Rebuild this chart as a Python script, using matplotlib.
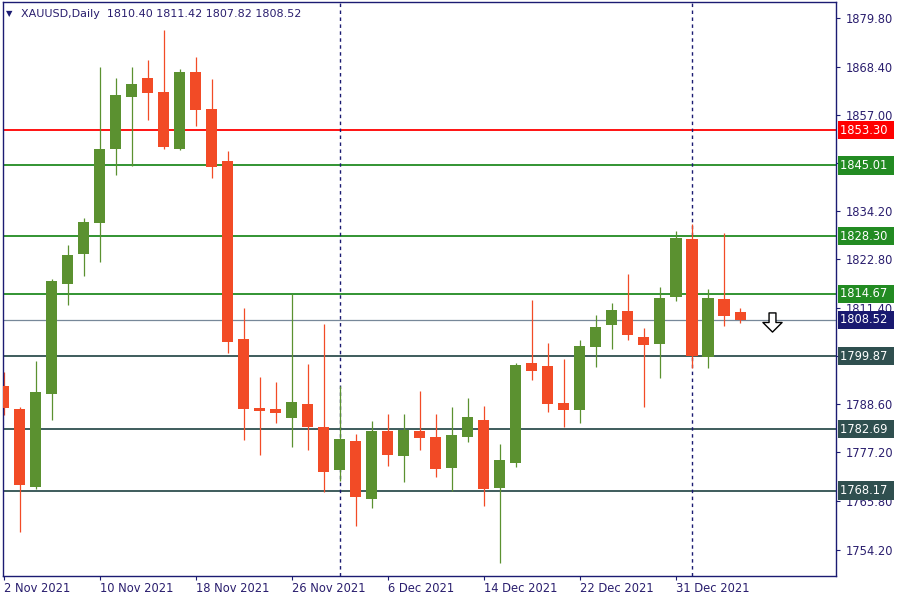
import numpy as np
import matplotlib
matplotlib.use('Agg')
import matplotlib.pyplot as plt
from matplotlib.path import Path
from matplotlib.transforms import blended_transform_factory

# daily XAUUSD candles, 2 Nov 2021 .. 6 Jan 2022
opens = [1792.8, 1787.5, 1768.9, 1791.1, 1817.0, 1824.0, 1831.5, 1848.9, 1861.3, 1865.7,
         1862.4, 1849.0, 1867.1, 1858.3, 1846.0, 1803.9, 1787.6, 1787.5, 1785.3, 1788.6,
         1783.1, 1773.0, 1779.8, 1766.2, 1782.2, 1776.3, 1782.2, 1780.8, 1773.5, 1780.8,
         1784.8, 1768.8, 1774.7, 1798.3, 1797.6, 1788.8, 1787.2, 1802.1, 1807.3, 1810.6,
         1804.4, 1802.8, 1814.0, 1827.6, 1799.8, 1813.4, 1810.40]
highs = [1796.2, 1787.9, 1798.7, 1818.1, 1826.2, 1832.5, 1868.4, 1865.8, 1868.4, 1869.9,
         1877.0, 1867.8, 1870.6, 1865.4, 1848.4, 1811.3, 1795.0, 1793.8, 1814.6, 1798.0,
         1807.5, 1792.8, 1781.6, 1784.6, 1786.2, 1786.2, 1791.6, 1786.2, 1787.9, 1790.0,
         1788.1, 1779.1, 1798.3, 1813.2, 1803.0, 1799.2, 1803.7, 1809.6, 1812.5, 1819.3,
         1806.5, 1816.2, 1829.5, 1831.1, 1815.8, 1829.0, 1811.42]
lows = [1786.0, 1758.4, 1768.6, 1784.8, 1812.0, 1818.8, 1822.1, 1842.7, 1845.0, 1855.8,
        1849.0, 1848.7, 1854.4, 1842.1, 1800.7, 1780.1, 1776.6, 1784.2, 1778.5, 1777.7,
        1767.8, 1770.4, 1759.8, 1764.1, 1774.0, 1770.2, 1777.8, 1771.4, 1768.1, 1779.7,
        1764.5, 1751.0, 1773.7, 1794.3, 1786.8, 1783.2, 1784.2, 1797.4, 1801.7, 1803.8,
        1787.9, 1794.8, 1813.0, 1797.2, 1797.2, 1807.1, 1807.82]
closes = [1787.6, 1769.4, 1791.5, 1817.6, 1823.9, 1831.6, 1848.8, 1861.7, 1864.3, 1862.2,
          1849.4, 1867.1, 1858.2, 1844.7, 1803.3, 1787.5, 1787.0, 1786.5, 1789.0, 1783.2,
          1772.6, 1780.3, 1766.7, 1782.2, 1776.6, 1782.4, 1780.6, 1773.3, 1781.2, 1785.5,
          1768.5, 1775.3, 1797.8, 1796.5, 1788.6, 1787.2, 1802.3, 1806.8, 1810.8, 1805.0,
          1802.6, 1813.8, 1827.8, 1800.0, 1813.6, 1809.5, 1808.52]

date_ticks = [0, 6, 12, 18, 24, 30, 36, 42]
date_labels = ['2 Nov 2021', '10 Nov 2021', '18 Nov 2021', '26 Nov 2021',
               '6 Dec 2021', '14 Dec 2021', '22 Dec 2021', '31 Dec 2021']
separators = [21, 43]  # 1 Dec, 3 Jan

price_ticks = [1879.80, 1868.40, 1857.00, 1845.60, 1834.20, 1822.80,
               1811.40, 1800.00, 1788.60, 1777.20, 1765.80, 1754.20]
hidden_ticks = [1800.00]  # sits fully under the 1799.87 box

levels = [1853.30, 1845.01, 1828.30, 1814.67, 1799.87, 1782.69, 1768.17]
level_colors = ['#FF0000', '#228B22', '#228B22', '#228B22', '#2F4F4F', '#2F4F4F', '#2F4F4F']
current_price = 1808.52

arrow_x = 48
arrow_price = 1808.1

UP = '#5B9130'
DOWN = '#F24B26'
NAVY = '#1B1B72'
TXT = '#2A1E6E'

fig = plt.figure(figsize=(9, 6), dpi=100)
ax = fig.add_axes([0.003, 0.04, 0.926, 0.957])

x = np.arange(len(opens))
o = np.array(opens)
c = np.array(closes)
cols = [UP if cc >= oo else DOWN for oo, cc in zip(opens, closes)]

for lv, col in zip(levels, level_colors):
    ax.axhline(lv, color=col, lw=1.3, zorder=1)
ax.axhline(current_price, color='#778899', lw=0.9, zorder=1)
for s in separators:
    ax.axvline(s, color=NAVY, lw=1.0, ls=(0, (2.5, 2.5)), zorder=1)

ax.vlines(x, lows, highs, colors=cols, lw=0.9, zorder=2)
ax.bar(x, c - o, bottom=o, width=0.69, color=cols, lw=0, zorder=3)

# arrow object
arrow_path = Path([(-0.18, 0.5), (0.18, 0.5), (0.18, 0.0), (0.5, 0.0), (0.0, -0.5),
                   (-0.5, 0.0), (-0.18, 0.0), (-0.18, 0.5)], closed=True)
ax.scatter([arrow_x], [arrow_price], marker=arrow_path, s=190, facecolor='white',
           edgecolor='black', linewidths=1.0, zorder=4)

ax.set_xlim(-0.05, 52.0)
ax.set_ylim(1747.96, 1883.71)

ax.yaxis.tick_right()
ax.set_yticks(price_ticks)
ax.set_yticklabels(['' if p in hidden_ticks else '%.2f' % p for p in price_ticks])
ax.set_xticks(date_ticks)
ax.set_xticklabels(date_labels, ha='left')
ax.tick_params(axis='both', colors=NAVY, labelcolor=TXT, labelsize=8.3, length=3, width=0.8)
ax.tick_params(axis='y', pad=4)
ax.tick_params(axis='x', pad=1.5)
for sp in ax.spines.values():
    sp.set_color(NAVY)
    sp.set_linewidth(1.0)

# price boxes on the right scale
tr = blended_transform_factory(ax.transAxes, ax.transData)
for lv, col in zip(levels + [current_price], level_colors + ['#191970']):
    ax.text(1.005, lv, '%.2f ' % lv, transform=tr, ha='left', va='center', color='white',
            fontsize=8.3, clip_on=False, zorder=10,
            bbox=dict(boxstyle='square,pad=0.22', facecolor=col, edgecolor='none'))

ax.text(0.004, 0.979, '\u25bc', transform=ax.transAxes, fontsize=6, color=NAVY,
        va='center', ha='left')
ax.text(0.022, 0.978, 'XAUUSD,Daily  1810.40 1811.42 1807.82 1808.52',
        transform=ax.transAxes, fontsize=8, color=TXT, va='center', ha='left')

fig.savefig('out.png', dpi=100, facecolor='white')
